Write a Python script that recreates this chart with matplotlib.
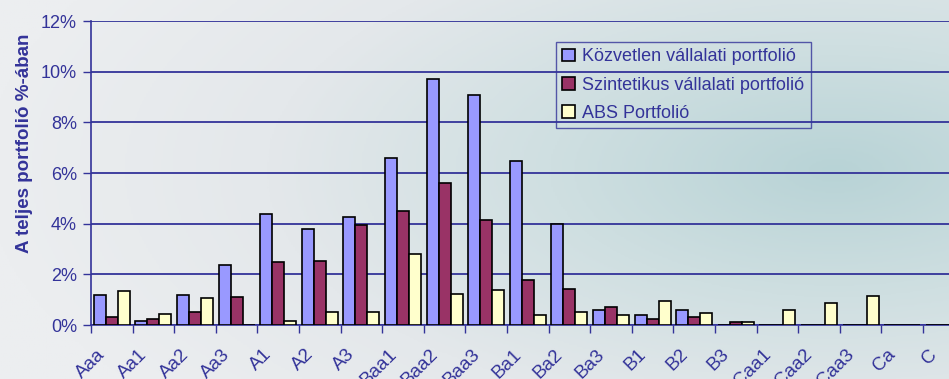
import numpy as np
import matplotlib
matplotlib.use("Agg")
import matplotlib.pyplot as plt
import matplotlib.transforms as mtransforms
from matplotlib.colors import LinearSegmentedColormap

categories = ["Aaa", "Aa1", "Aa2", "Aa3", "A1", "A2", "A3", "Baa1", "Baa2", "Baa3",
              "Ba1", "Ba2", "Ba3", "B1", "B2", "B3", "Caa1", "Caa2", "Caa3", "Ca", "C"]
kozvetlen = [1.19, 0.17, 1.19, 2.36, 4.38, 3.79, 4.26, 6.61, 9.70, 9.08,
             6.46, 3.99, 0.60, 0.38, 0.60, 0.0, 0.0, 0.0, 0.0, 0.0, 0.0]
szintetikus = [0.33, 0.24, 0.52, 1.09, 2.47, 2.51, 3.94, 4.51, 5.62, 4.13,
               1.76, 1.42, 0.71, 0.24, 0.31, 0.13, 0.0, 0.0, 0.0, 0.0, 0.0]
abs_portf = [1.34, 0.43, 1.05, 0.0, 0.17, 0.52, 0.52, 2.80, 1.23, 1.37,
             0.38, 0.52, 0.38, 0.93, 0.46, 0.13, 0.60, 0.85, 1.14, 0.0, 0.0]
series_names = ["Közvetlen vállalati portfolió", "Szintetikus vállalati portfolió", "ABS Portfolió"]
yticks = [0, 2, 4, 6, 8, 10, 12]

navy = "#333399"
colors = ["#9999FF", "#993366", "#FFFFCC"]
plt.rcParams['font.family'] = ['Liberation Sans', 'DejaVu Sans']

W, H = 949, 379
fig = plt.figure(figsize=(W / 100, H / 100), dpi=100)

# background gradient
bg = fig.add_axes([0, 0, 1, 1], zorder=-10)
yy, xx = np.mgrid[0:1:200j, 0:1:500j]
d = np.sqrt(((xx - 0.88) * 1.0) ** 2 + ((yy - 0.45) * 0.9) ** 2)
t = np.clip(d / 0.9, 0, 1)
cmap = LinearSegmentedColormap.from_list("bg", ["#b8d3d6", "#cfdfe1", "#e4e8eb", "#eceef0"])
bg.imshow(t, cmap=cmap, aspect="auto", extent=[0, 1, 1, 0], vmin=0, vmax=1)
bg.axis("off")

left = 91 / W
right_px = 91 + 21 * 41.6
ax = fig.add_axes([left, 54 / H, (right_px - 91) / W, 304 / H])
ax.set_facecolor("none")

x = np.arange(len(categories))
bw = 0.29
for i, (vals, c, name) in enumerate(zip([kozvetlen, szintetikus, abs_portf], colors, series_names)):
    ax.bar(x + (i - 1) * bw, vals, width=bw, color=c, edgecolor="black", linewidth=1.2,
           label=name, zorder=3)

ax.set_xlim(-0.5, len(categories) - 0.5)
ax.set_ylim(0, 12)
ax.set_yticks(yticks)
ax.set_yticklabels([f"{v}%" for v in yticks])
ax.yaxis.grid(True, color=navy, linewidth=1.3, zorder=0)
ax.set_axisbelow(True)

ax.set_xticks(np.arange(len(categories) + 1) - 0.5)
ax.set_xticklabels([])
ax.set_xticks(x, minor=True)
ax.set_xticklabels(categories, minor=True, rotation=45, ha="right", va="top")
ax.tick_params(axis="x", which="minor", length=0, pad=15, labelsize=13.5, labelcolor=navy)
ax.tick_params(axis="x", which="major", length=6, width=1, color=navy)
ax.tick_params(axis="y", length=6, width=1, color=navy, labelsize=13, labelcolor=navy, pad=4)
offset = mtransforms.ScaledTranslation(-3 / 100, 0, fig.dpi_scale_trans)
for lbl in ax.xaxis.get_minorticklabels():
    lbl.set_transform(lbl.get_transform() + offset)

for s in ["top", "right"]:
    ax.spines[s].set_visible(False)
for s in ["left", "bottom"]:
    ax.spines[s].set_color(navy)
    ax.spines[s].set_linewidth(1.2)

fig.text(25 / W, 1 - 143 / H, "A teljes portfolió %-ában", rotation=90, ha="center", va="center",
         fontsize=13.5, fontweight="bold", color=navy)

leg = ax.legend(loc="upper left", bbox_to_anchor=(556 / W, 1 - 42 / H), bbox_transform=fig.transFigure,
                fontsize=13, frameon=True, fancybox=False, handlelength=0.7, handleheight=0.7,
                handletextpad=0.4, labelspacing=0.62, borderpad=0.35, borderaxespad=0)
leg.get_frame().set_facecolor("none")
leg.get_frame().set_edgecolor(navy)
leg.get_frame().set_linewidth(1.0)
for txt in leg.get_texts():
    txt.set_color(navy)

fig.savefig("out.png", dpi=100)
